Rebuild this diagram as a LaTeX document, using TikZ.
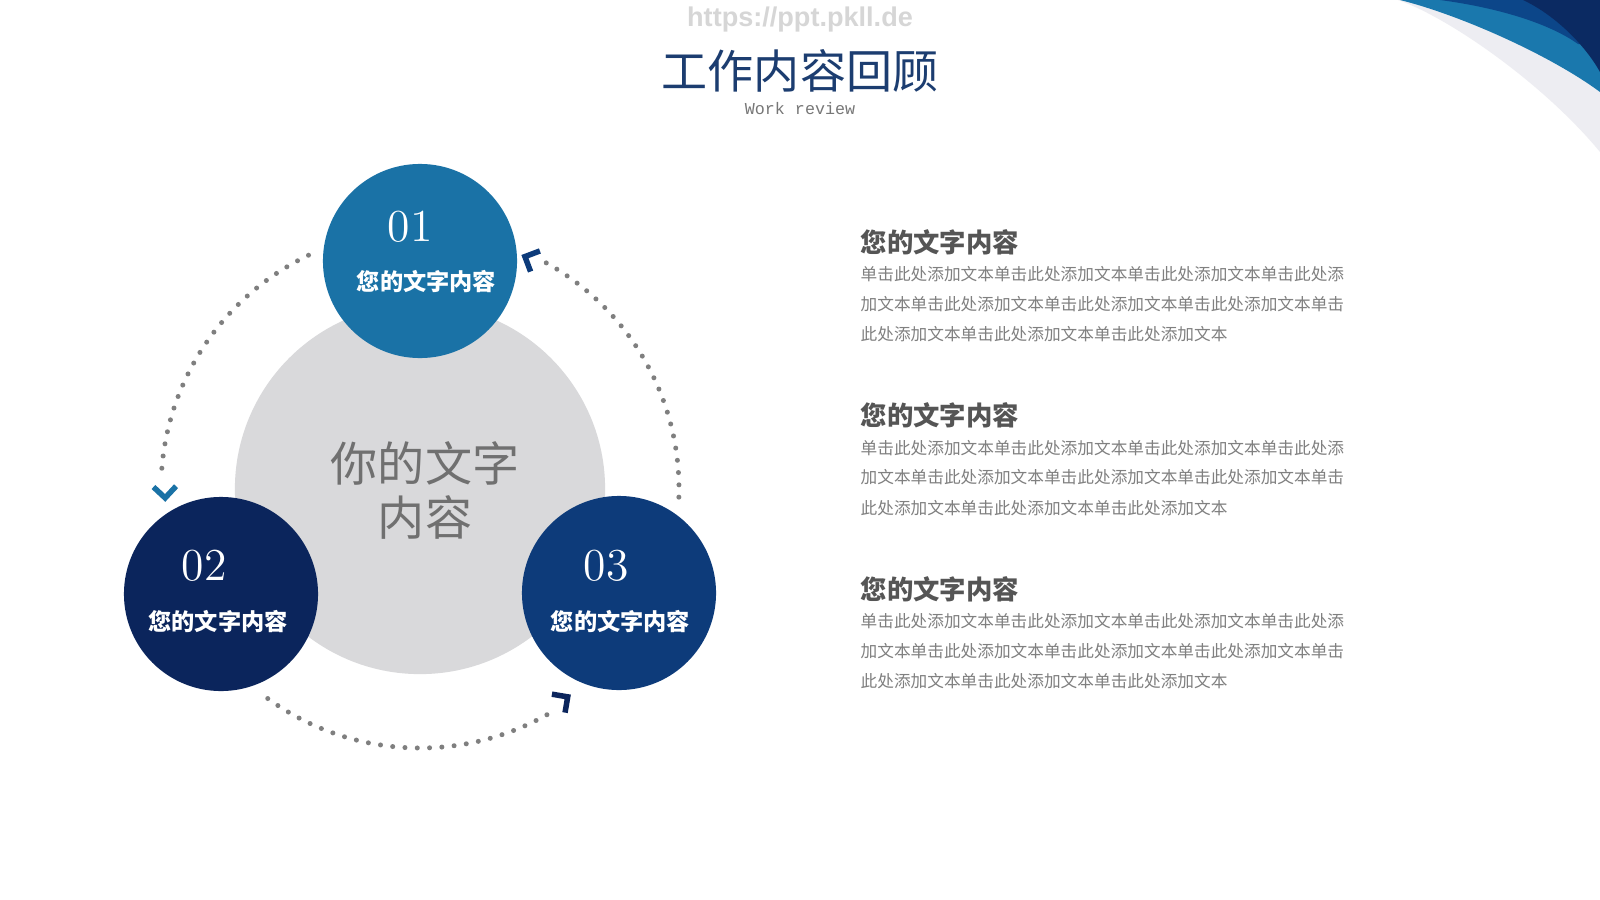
\documentclass[tikz,border=0pt]{standalone}
\usepackage{fontspec}
\usetikzlibrary{calc}
\newfontfamily\cjk{Noto Sans CJK SC}
\newfontfamily\monofam{Liberation Mono}
\newfontfamily\wmfam{Liberation Sans}
\definecolor{cA}{HTML}{1A72A6}
\definecolor{cB}{HTML}{0B255C}
\definecolor{cC}{HTML}{0D3B7A}
\definecolor{cGray}{HTML}{D9D9DB}
\definecolor{cDot}{HTML}{7F7F7F}
\definecolor{cTitle}{HTML}{1C3D70}
\definecolor{cHead}{HTML}{555555}
\definecolor{cBody}{HTML}{808080}
\definecolor{cCenter}{HTML}{707070}
\definecolor{cWM}{HTML}{D6D6D6}
\definecolor{cSwGray}{HTML}{EDEDF2}
\definecolor{cSwBlue}{HTML}{1A78AD}
\definecolor{cSwMid}{HTML}{0C4689}
\definecolor{cSwDark}{HTML}{0B2A62}
\begin{document}
\begin{tikzpicture}[x=0.01cm,y=0.01cm,
  wmark/.style={inner sep=0pt,text=cWM,font=\wmfam\bfseries\fontsize{7.7pt}{9pt}\selectfont},
  titletext/.style={inner sep=0pt,text=cTitle,font=\cjk\fontsize{13.1pt}{15pt}\selectfont},
  subtext/.style={inner sep=0pt,text=cHead!80,font=\monofam\fontsize{4.75pt}{6pt}\selectfont},
  dotarc/.style={draw=cDot,line width=0.05cm,line cap=round,dash pattern=on 0pt off 0.123cm},
  chev/.style={line width=0.055cm,line join=miter,line cap=butt},
  core/.style={circle,fill=cGray,inner sep=0pt,minimum size=3.7cm},
  bubble/.style={circle,inner sep=0pt,minimum size=1.94cm},
  coretext/.style={inner sep=0pt,text=cCenter,align=center,font=\cjk\fontsize{13.4pt}{15.1pt}\selectfont},
  numtext/.style={inner sep=0pt,text=white,font=\fontsize{13pt}{15pt}\selectfont},
  lbltext/.style={inner sep=0pt,text=white,font=\cjk\bfseries\fontsize{6.6pt}{8pt}\selectfont},
  headtext/.style={inner sep=0pt,anchor=west,text=cHead,font=\cjk\bfseries\fontsize{7.5pt}{9pt}\selectfont},
  bodytext/.style={inner sep=0pt,anchor=west,text=cBody,font=\cjk\fontsize{4.74pt}{6pt}\selectfont}]
\useasboundingbox (0,0) rectangle (1600,-900);
\fill[white] (0,0) rectangle (1600,-900);
% top-right swooshes
\fill[cSwGray] (1398,0) .. controls (1450,-18) and (1545,-85) .. (1600,-152) -- (1600,0) -- cycle;
\fill[cSwBlue] (1400,0) .. controls (1460,-15) and (1550,-55) .. (1600,-92) -- (1600,0) -- cycle;
\fill[cSwMid] (1440,0) .. controls (1500,-8) and (1550,-24) .. (1578,-44) -- (1600,-44) -- (1600,0) -- cycle;
\fill[cSwDark] (1523,0) .. controls (1555,-15) and (1585,-45) .. (1600,-72) -- (1600,0) -- cycle;
% header
\node[wmark] (wm) at (800,-20) {https://ppt.pkll.de};
\node[titletext] (title) at (800,-71) {工作内容回顾};
\node[subtext] (sub) at (800,-109) {Work review};
% cycle
\coordinate (o) at (420,-489);
\draw[dotarc] ($(o)+(115.5:259)$) arc[start angle=115.5,end angle=177.5,radius=259];
\draw[dotarc] ($(o)+(-126:259)$) arc[start angle=-126,end angle=-58.6,radius=259];
\draw[dotarc] ($(o)+(-1.8:259)$) arc[start angle=-1.8,end angle=62.4,radius=259];
\draw[chev,cA] ($(o)+(182:255)+(137:16)$) -- ($(o)+(182:255)$) -- ($(o)+(182:255)+(47:16)$);
\draw[chev,cC] ($(o)+(65.7:255)+(20.7:16)$) -- ($(o)+(65.7:255)$) -- ($(o)+(65.7:255)+(-69.3:16)$);
\draw[chev,cB] ($(o)+(-54.6:255)+(-99.6:16)$) -- ($(o)+(-54.6:255)$) -- ($(o)+(-54.6:255)+(170.4:16)$);
\node[core] (core) at (o) {};
\node[coretext] (ctext) at (425,-490.5) {你的文字\\内容};
\node[bubble,fill=cA] (c01) at (420,-261) {};
\node[bubble,fill=cB] (c02) at (221,-594) {};
\node[bubble,fill=cC] (c03) at (619,-593) {};
\node[numtext] (n01) at (410,-226.5) {01};
\node[lbltext] (l01) at (426.5,-281.6) {您的文字内容};
\node[numtext] (n02) at (204,-566) {02};
\node[lbltext] (l02) at (218,-621.5) {您的文字内容};
\node[numtext] (n03) at (606,-566) {03};
\node[lbltext] (l03) at (620.5,-621.5) {您的文字内容};
% right text blocks
\foreach \i/\y in {1/242,2/415.5,3/589}{
  \node[headtext] (h\i) at (860,-\y) {您的文字内容};
  \node[bodytext] (b\i a) at (860,{-(\y+32.5)}) {单击此处添加文本单击此处添加文本单击此处添加文本单击此处添};
  \node[bodytext] (b\i b) at (860,{-(\y+62)}) {加文本单击此处添加文本单击此处添加文本单击此处添加文本单击};
  \node[bodytext] (b\i c) at (860,{-(\y+92.5)}) {此处添加文本单击此处添加文本单击此处添加文本};
}
\end{tikzpicture}
\end{document}
